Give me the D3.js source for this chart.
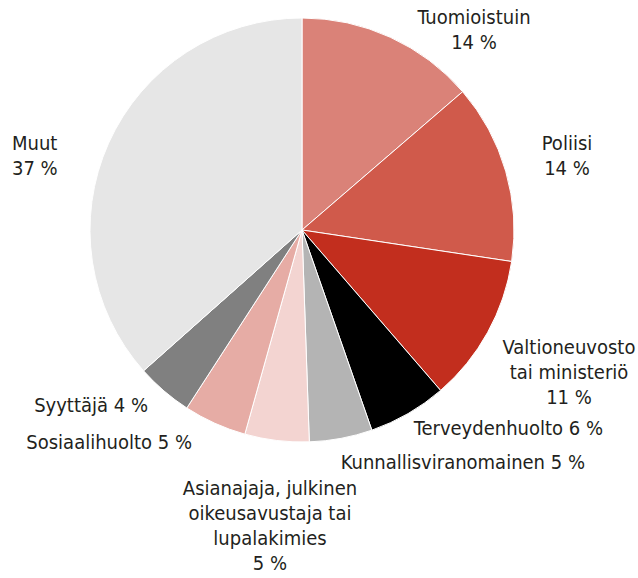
<!DOCTYPE html>
<html>
<head>
<meta charset="utf-8">
<script src="https://cdn.jsdelivr.net/npm/d3@7"></script>
<style>
  body { margin: 0; background: #fff; }
  text { font-family: "Liberation Sans Narrow", "DejaVu Sans Condensed", sans-serif; fill: #231f20; }
</style>
</head>
<body>
<div id="chart"></div>
<script>
var svgWidth = 638;
var svgHeight = 578;

// data
var categories = ["Tuomioistuin", "Poliisi", "Valtioneuvosto tai ministeriö", "Terveydenhuolto",
  "Kunnallisviranomainen", "Asianajaja, julkinen oikeusavustaja tai lupalakimies",
  "Sosiaalihuolto", "Syyttäjä", "Muut"];
var values = [13.7, 13.7, 11.3, 6.0, 4.8, 4.9, 4.8, 4.3, 36.6];
var shownPct = ["14 %", "14 %", "11 %", "6 %", "5 %", "5 %", "5 %", "4 %", "37 %"];
var colors = ["#da8278", "#d05a4b", "#c22e1e", "#000000", "#b4b4b4", "#f3d4d1", "#e6aca5", "#808080", "#e6e6e6"];

// label layout: lines, anchor, x, first line y
var labelLayout = [
  { lines: ["Tuomioistuin", "14 %"], anchor: "middle", x: 474, y: 17 },
  { lines: ["Poliisi", "14 %"], anchor: "middle", x: 567, y: 143 },
  { lines: ["Valtioneuvosto", "tai ministeriö", "11 %"], anchor: "middle", x: 569, y: 347 },
  { lines: ["Terveydenhuolto 6 %"], anchor: "end", x: 603, y: 428 },
  { lines: ["Kunnallisviranomainen 5 %"], anchor: "end", x: 585, y: 462 },
  { lines: ["Asianajaja, julkinen", "oikeusavustaja tai", "lupalakimies", "5 %"], anchor: "middle", x: 270, y: 488 },
  { lines: ["Sosiaalihuolto 5 %"], anchor: "end", x: 192, y: 442 },
  { lines: ["Syyttäjä 4 %"], anchor: "end", x: 148, y: 405 },
  { lines: ["Muut", "37 %"], anchor: "start", x: 12, y: 143 }
];

var cx = 302, cy = 230, radius = 212;

var svg = d3.select("#chart")
  .append("svg")
  .attr("width", svgWidth)
  .attr("height", svgHeight);

var pie = d3.pie().sort(null).value(d => d);
var arc = d3.arc().innerRadius(0).outerRadius(radius);

var pieGroup = svg.append("g")
  .attr("transform", `translate(${cx}, ${cy})`);

pieGroup.selectAll("path")
  .data(pie(values))
  .enter()
  .append("path")
  .attr("d", arc)
  .attr("fill", (d, i) => colors[i])
  .attr("stroke", "#fff")
  .attr("stroke-width", 1);

// labels
var lineHeight = 25;
labelLayout.forEach(function(l, i) {
  var t = svg.append("text")
    .attr("text-anchor", l.anchor)
    .attr("font-size", "20px");
  l.lines.forEach(function(line, j) {
    t.append("tspan")
      .attr("x", l.x)
      .attr("y", l.y + j * lineHeight)
      .attr("dy", "0.35em")
      .text(line);
  });
});
</script>
</body>
</html>
